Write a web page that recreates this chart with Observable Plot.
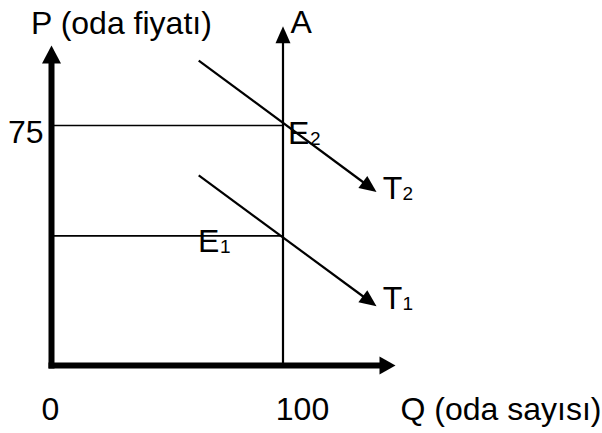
<!DOCTYPE html>
<html><head><meta charset="utf-8">
<script src="https://cdn.jsdelivr.net/npm/d3@7"></script>
<script src="https://cdn.jsdelivr.net/npm/@observablehq/plot@0.6"></script>
<style>html,body{margin:0;padding:0;background:#fff}</style>
</head><body><div id="chart"></div>
<script>
// ---- data (Q = oda sayısı, P = oda fiyatı) ----
const qAxisEnd = 148.6;          // end of the Q axis
const pAxisEnd = 100;            // end of the P axis
const roomSupply = 100;          // A : fixed number of rooms
const supplyTop = 106;           // top of line A
const priceE2 = 75;              // equilibrium price with T2
const priceE1 = 40.5;            // equilibrium price with T1
const demandT2 = [{q: 63.6, p: 95.3}, {q: 140.4, p: 54.2}];
const demandT1 = [{q: 63.6, p: 59.4}, {q: 140.4, p: 18.5}];
const xTickValues = [0, 100];
const xTickLabels = ["0", "100"];
const yTickValues = [75];
const yTickLabels = ["75"];

// ---- scales ----
const xScale = {domain: [0, 100], range: [51, 282.5]};
const yScale = {domain: [0, 75], range: [365, 125]};
const sx = Plot.scale({x: xScale});
const sy = Plot.scale({y: yScale});

// segments with filled arrowheads
const segments = [
  {x1: 0, y1: 0, x2: 0, y2: pAxisEnd, w: 6, L: 18, W: 19, cap: "square"},
  {x1: 0, y1: 0, x2: qAxisEnd, y2: 0, w: 6, L: 16, W: 18, cap: "square"},
  {x1: roomSupply, y1: 0, x2: roomSupply, y2: supplyTop, w: 2.2, L: 17, W: 15, cap: "butt"},
  {x1: demandT2[0].q, y1: demandT2[0].p, x2: demandT2[1].q, y2: demandT2[1].p, w: 2.2, L: 17, W: 15, cap: "butt"},
  {x1: demandT1[0].q, y1: demandT1[0].p, x2: demandT1[1].q, y2: demandT1[1].p, w: 2.2, L: 17, W: 15, cap: "butt"}
];

function headSymbol(s) {
  const dx = sx.apply(s.x2) - sx.apply(s.x1);
  const dy = sy.apply(s.y2) - sy.apply(s.y1);
  const len = Math.hypot(dx, dy);
  const ux = dx / len, uy = dy / len, px = -uy, py = ux;
  return {
    draw(ctx) {
      ctx.moveTo(0, 0);
      ctx.lineTo(-s.L * ux + s.W / 2 * px, -s.L * uy + s.W / 2 * py);
      ctx.lineTo(-s.L * ux - s.W / 2 * px, -s.L * uy - s.W / 2 * py);
      ctx.closePath();
    }
  };
}

const marks = [];
// price level lines
for (const p of [priceE2, priceE1]) {
  marks.push(Plot.line([{q: 0, p}, {q: roomSupply, p}], {x: "q", y: "p", stroke: "black", strokeWidth: 1.6}));
}
for (const s of segments) {
  marks.push(Plot.arrow([s], {
    x1: "x1", y1: "y1", x2: "x2", y2: "y2",
    stroke: "black", strokeWidth: s.w, headLength: 0,
    insetEnd: s.L * 0.6, strokeLinecap: s.cap
  }));
  marks.push(Plot.dot([s], {x: "x2", y: "y2", symbol: headSymbol(s), fill: "black", stroke: "none"}));
}

const font = 32, subFont = 19;
function label(pt, main, sub, opts, subDx) {
  const out = [Plot.text([pt], {x: "q", y: "p", text: () => main, fontSize: font, lineAnchor: "bottom", ...opts})];
  if (sub) out.push(Plot.text([pt], {x: "q", y: "p", text: () => sub, fontSize: subFont, lineAnchor: "bottom",
    textAnchor: "start", dx: subDx, dy: opts.dy + 1}));
  return out;
}

marks.push(
  ...label({q: 0, p: pAxisEnd}, "P (oda fiyatı)", null, {textAnchor: "start", dx: -20.5, dy: -12}),
  ...label({q: roomSupply, p: supplyTop}, "A", null, {textAnchor: "start", dx: 7.5, dy: 7}),
  ...label({q: roomSupply, p: priceE2}, "E", "2", {textAnchor: "start", dx: 5, dy: 18}, 27),
  ...label({q: roomSupply, p: priceE1}, "E", "1", {textAnchor: "start", dx: -85, dy: 16.5}, -63),
  ...label({q: demandT2[1].q, p: demandT2[1].p}, "T", "2", {textAnchor: "start", dx: 6.3, dy: 6.5}, 26),
  ...label({q: demandT1[1].q, p: demandT1[1].p}, "T", "1", {textAnchor: "start", dx: 6.3, dy: 2.5}, 26),
  ...label({q: qAxisEnd, p: 0}, "Q (oda sayısı)", null, {textAnchor: "start", dx: 5, dy: 54})
);
// tick labels
const xTickDx = [-1, 19.5];
xTickValues.forEach((q, i) => {
  marks.push(Plot.text([{q, p: 0, t: xTickLabels[i]}], {
    x: "q", y: "p", text: "t", fontSize: font, lineAnchor: "bottom", textAnchor: "middle",
    dx: xTickDx[i], dy: 54
  }));
});
marks.push(Plot.text(yTickValues.map((p, i) => ({q: 0, p, t: yTickLabels[i]})), {
  x: "q", y: "p", text: "t", fontSize: font, lineAnchor: "bottom", textAnchor: "end", dx: -8, dy: 17
}));

const chart = Plot.plot({
  width: 602, height: 433,
  marginTop: 0, marginRight: 0, marginBottom: 0, marginLeft: 0,
  x: {...xScale, axis: null},
  y: {...yScale, axis: null},
  style: {background: "white", fontFamily: "'Liberation Sans', Arial, sans-serif", color: "black"},
  marks
});
document.getElementById("chart").appendChild(chart);
</script>
</body></html>
